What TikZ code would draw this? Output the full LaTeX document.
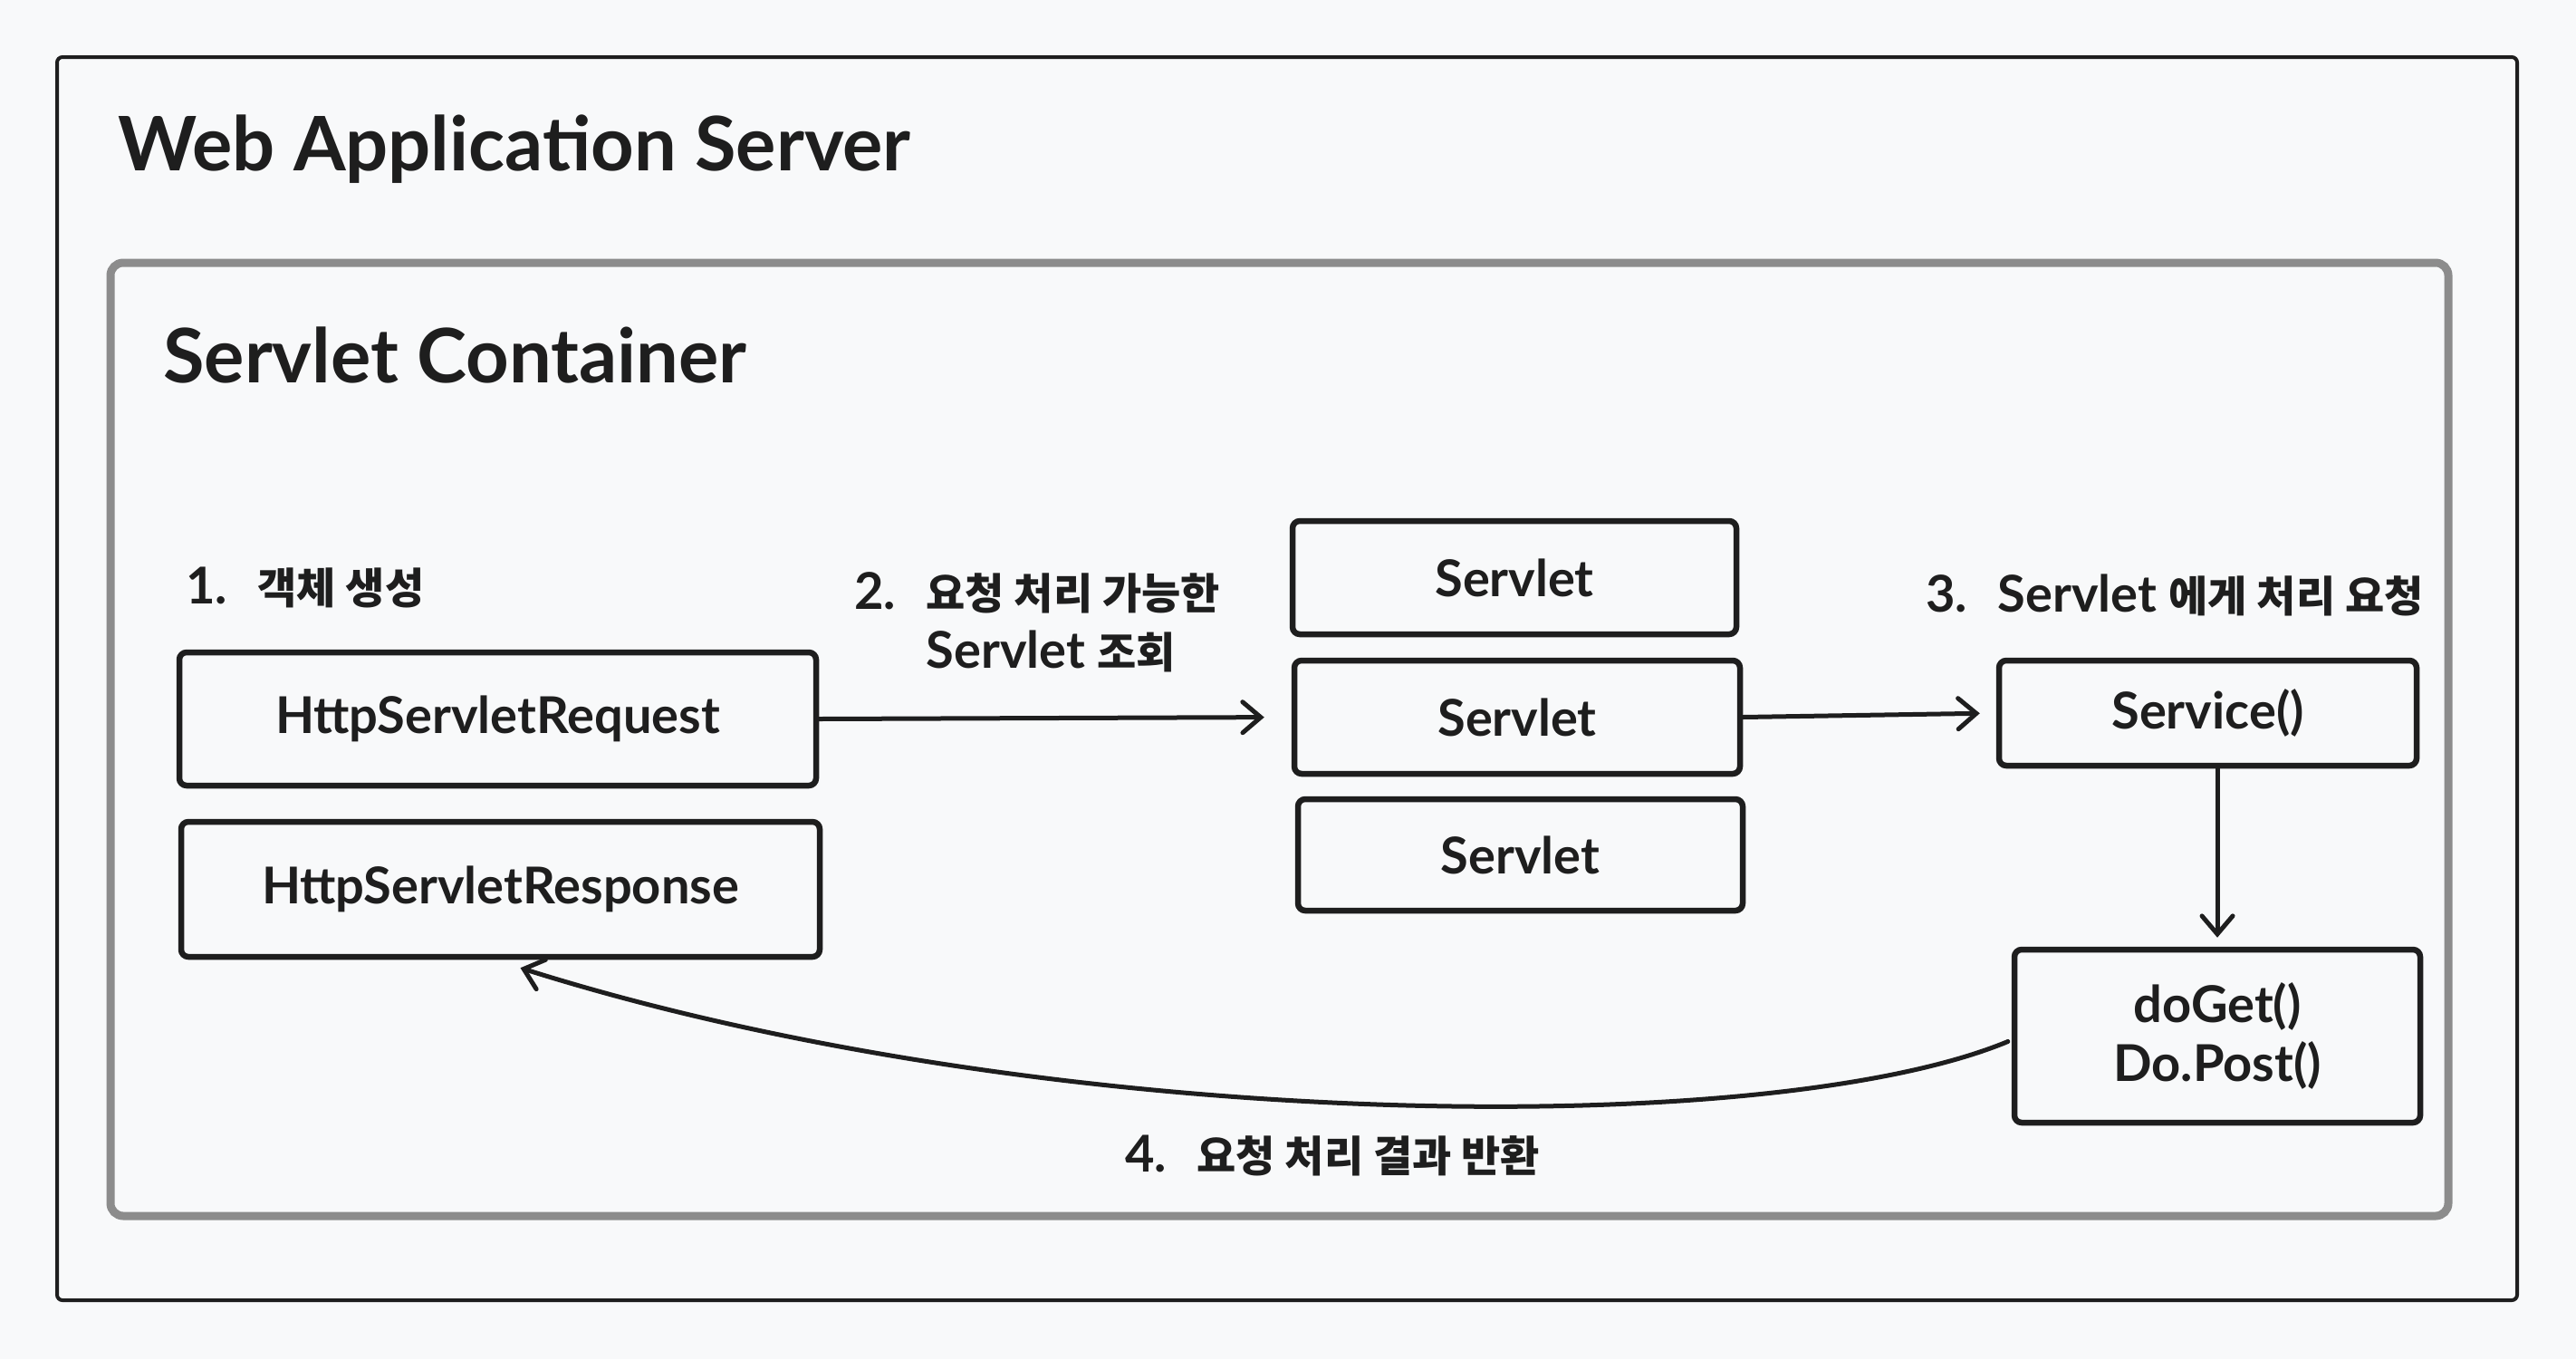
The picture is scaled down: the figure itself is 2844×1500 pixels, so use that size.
\documentclass[tikz,border=0pt]{standalone}
\usepackage{fontspec}
\setmainfont{Lato}
\newfontfamily\kr{Noto Sans CJK KR}
\usetikzlibrary{arrows.meta,calc}
\definecolor{bgc}{HTML}{F8F9FA}
\definecolor{ink}{HTML}{1E1E1E}
\definecolor{cgray}{HTML}{8C8C8C}
\newcommand\bxfont{\fontsize{56}{65}\selectfont\bfseries}
\newcommand\ttlfont{\fontsize{83}{90}\selectfont\bfseries}
\newcommand\lblfont{\fontsize{56}{65}\selectfont\bfseries}
\newcommand\krtext[1]{{\kr\fontsize{47}{65}\selectfont\bfseries #1}}
\tikzset{
  box/.style={draw=ink, line width=6.5pt, rounded corners=8pt, fill=bgc, inner sep=0pt,
    align=center, font=\bxfont, text=ink},
  lbl/.style={anchor=west, inner sep=0pt, font=\lblfont, text=ink, align=left},
  ttl/.style={anchor=west, inner sep=0pt, font=\ttlfont, text=ink},
  arr/.style={draw=ink, line width=5pt, line cap=round,
    -{Straight Barb[length=20pt,width=34pt,line cap=round]}}
}
\begin{document}
\begin{tikzpicture}[x=1pt,y=-1pt]
\fill[bgc] (0,0) rectangle (2844,1500);
\useasboundingbox (0,0) rectangle (2844,1500);
% containers
\draw[ink, line width=4pt, rounded corners=6pt] (63,63) rectangle (2779,1435);
\draw[cgray, line width=9pt, rounded corners=14pt] (122,290) rectangle (2703,1342);
\node[ttl] (wastitle) at (130,165) {Web Application Server};
\node[ttl] (sctitle) at (180,392) {Servlet Container};
% boxes
\node[box, minimum width=703pt, minimum height=147pt] (req) at (549.5,793.5) {HttpServletRequest};
\node[box, minimum width=705pt, minimum height=149pt] (resp) at (552.5,981.5) {HttpServletResponse};
\node[box, minimum width=490pt, minimum height=125pt] (s1) at (1672,637.5) {Servlet};
\node[box, minimum width=492pt, minimum height=125pt] (s2) at (1675,791.5) {Servlet};
\node[box, minimum width=491pt, minimum height=123pt] (s3) at (1678.5,943.5) {Servlet};
\node[box, minimum width=461pt, minimum height=116pt] (svc) at (2437.5,787) {Service()};
\node[box, minimum width=448pt, minimum height=191pt] (doget) at (2448,1143.5) {doGet()\\Do.Post()};
% labels
\node[lbl] (l1) at (205,648) {1.\hspace{0.6em}\krtext{객체 생성}};
\node[lbl] (l2) at (943,692) {\begin{tabular}{@{}l@{\hspace{0.6em}}l@{}}2. & \krtext{요청 처리 가능한}\\ & Servlet \krtext{조회}\end{tabular}};
\node[lbl] (l3) at (2126,657) {3.\hspace{0.6em}Servlet \krtext{에게 처리 요청}};
\node[lbl] (l4) at (1242,1275) {4.\hspace{0.6em}\krtext{요청 처리 결과 반환}};
% connectors
\draw[arr, shorten >=30pt] (req.east) -- (s2.west);
\draw[arr, shorten >=18pt] (s2.east) -- (svc.west);
\draw[arr, shorten >=10pt] (svc.south -| doget.north) -- (doget.north);
\draw[arr] ($(doget.west)+(-4,6)$) .. controls (1950,1260) and (1150,1250) .. ($(resp.south)+(22,9)$);
\end{tikzpicture}
\end{document}
